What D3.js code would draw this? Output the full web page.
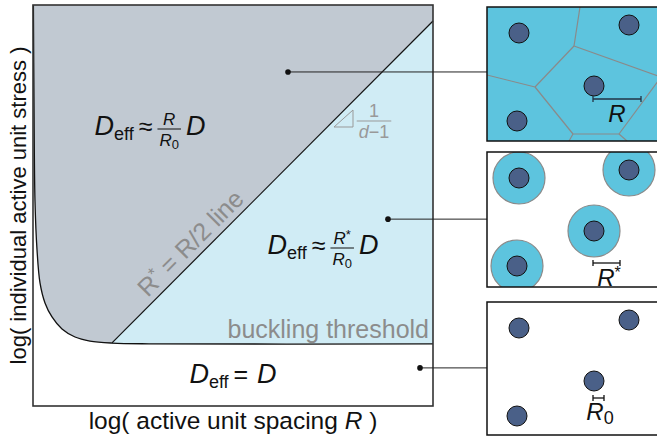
<!DOCTYPE html>
<html>
<head>
<meta charset="utf-8">
<script src="https://cdn.jsdelivr.net/npm/d3@7"></script>
<style>
  body { margin:0; background:#fff; }
  svg { display:block; font-family:"Liberation Sans", Arial, Helvetica, sans-serif; }
</style>
</head>
<body>
<svg id="chart" width="657" height="441"></svg>
<script>
// phase diagram, abstract log units 0..10 on both axes
const boundaryCurve = [
  [0.01,10],[0.025,7.6],[0.05,5.1],[0.1,3.9],[0.175,3.07],[0.3,2.57],[0.475,2.22],
  [0.725,1.92],[1.05,1.72],[1.425,1.62],[1.975,1.57],[2.9,1.55],[10,1.55]
];
const threshold = 1.55;
const halfLine = [[1.975,1.575],[10,9.6]];   // R* = R/2 line
const callouts = [[6.375,8.33],[8.875,4.66],[9.675,0.95]];

// right hand panels, local pixel units
const panelTops = [7,152,302];
const panelHeights = [134,135,133];
const units = [[32,26],[142,18],[107,79],[30,114]];
const voronoiEdges = [
  [[93,0],[87,39]],[[87,39],[48,80]],[[48,80],[0,68]],[[48,80],[86,127]],
  [[86,127],[82,134]],[[86,127],[132,127]],[[132,127],[140,134]],
  [[132,127],[174,70]],[[87,39],[174,70]]
];
const scaleBars = [48,27,11];   // R, R*, R0

const M = { top:5, right:224, bottom:35, left:33 };
const W = 657, H = 441;
const svg = d3.select('#chart');

const x = d3.scaleLinear().domain([0,10]).range([M.left, W - M.right]);
const y = d3.scaleLinear().domain([0,10]).range([H - M.bottom, M.top]);

const gray = '#c1c9d2', lightBlue = '#d0ecf5', cyan = '#5dc4de', dotCol = '#4a6088';

// regions
const curveLine = d3.line().x(d=>x(d[0])).y(d=>y(d[1])).curve(d3.curveCatmullRom.alpha(0.5));
const upper = boundaryCurve.filter(d => d[0] <= 1.975);
svg.append('path')
  .attr('d', curveLine(upper) + `L${x(10)},${y(9.6)}L${x(10)},${y(10)}Z`)
  .attr('fill', gray);

svg.append('path')
  .attr('d', `M${x(halfLine[0][0])},${y(threshold)}L${x(10)},${y(threshold)}L${x(10)},${y(9.6)}L${x(halfLine[0][0])},${y(halfLine[0][1])}Z`)
  .attr('fill', lightBlue);

svg.append('path')
  .attr('d', curveLine(boundaryCurve))
  .attr('fill','none').attr('stroke','#111').attr('stroke-width',1.3);

svg.append('line')
  .attr('x1', x(halfLine[0][0])).attr('y1', y(halfLine[0][1]))
  .attr('x2', x(halfLine[1][0])).attr('y2', y(halfLine[1][1]))
  .attr('stroke','#111').attr('stroke-width',1.2);

// frame
svg.append('rect')
  .attr('x', x(0)).attr('y', y(10))
  .attr('width', x(10)-x(0)).attr('height', y(0)-y(10))
  .attr('fill','none').attr('stroke','#333').attr('stroke-width',1.6);

// math text helper: lays out pieces left to right
function mathRow(parent, items) {
  const g = parent.append('g');
  let cx = 0;
  items.forEach(it => {
    if (it.frac) {
      const num = mathRow(g, it.frac[0]);
      const den = mathRow(g, it.frac[1]);
      const wn = num.node().getBBox().width, wd = den.node().getBBox().width;
      const w = Math.max(wn, wd) + 4;
      num.attr('transform', `translate(${cx + (w-wn)/2},-10)`);
      den.attr('transform', `translate(${cx + (w-wd)/2},11)`);
      g.append('line').attr('x1',cx).attr('x2',cx+w).attr('y1',-6).attr('y2',-6)
        .attr('stroke', it.color || '#111').attr('stroke-width',1);
      cx += w + (it.gap || 0);
    } else {
      const t = g.append('text')
        .attr('x', cx).attr('y', it.dy || 0)
        .attr('font-size', it.size || 24)
        .attr('font-style', it.italic ? 'italic' : 'normal')
        .attr('fill', it.color || '#111')
        .attr('xml:space','preserve')
        .text(it.t);
      cx += t.node().getComputedTextLength() + (it.gap || 0);
    }
  });
  return g;
}
function place(g, cx, by) {
  const b = g.node().getBBox();
  g.attr('transform', `translate(${cx - b.x - b.width/2},${by})`);
}

const Deff = [{t:'D', italic:true, size:27}, {t:'eff', size:18, dy:5, gap:5}];
const R0 = [{t:'R', italic:true, size:17}, {t:'0', size:13, dy:3}];

place(mathRow(svg, [...Deff, {t:'≈', size:25, gap:5},
  {frac:[[{t:'R', italic:true, size:17}], R0], gap:5}, {t:'D', italic:true, size:27}]), 150, 135);

place(mathRow(svg, [...Deff, {t:'≈', size:25, gap:5},
  {frac:[[{t:'R', italic:true, size:17},{t:'*', size:13, dy:-5}], R0], gap:5}, {t:'D', italic:true, size:27}]), 323, 254);

place(mathRow(svg, [...Deff, {t:'= ', size:25, gap:2}, {t:'D', italic:true, size:27}]), 233, 383);

// labels inside plot
svg.append('text')
  .attr('x', x(10) - 4).attr('y', y(threshold) - 6)
  .attr('text-anchor','end').attr('font-size',25).attr('fill','#8c8c8c')
  .text('buckling threshold');

const lx = 4.2, ly = lx - 0.4;
const lineLab = svg.append('text')
  .attr('transform', `translate(${x(lx)-4.5},${y(ly)-4.5}) rotate(-45)`)
  .attr('text-anchor','middle').attr('font-size',25).attr('fill','#8c8c8c')
  .attr('xml:space','preserve');
lineLab.append('tspan').text('R');
lineLab.append('tspan').attr('font-size',17).attr('dy',-8).text('*');
lineLab.append('tspan').attr('dy',8).text(' = R/2 line');

// slope triangle
svg.append('path')
  .attr('d', `M334,127L353,127L353,110Z`)
  .attr('fill','none').attr('stroke','#999').attr('stroke-width',1);
const slope = mathRow(svg, [{frac:[[{t:'1', size:18, color:'#999'}],
  [{t:'d', italic:true, size:18, color:'#999'},{t:'−1', size:18, color:'#999'}]], color:'#999'}]);
place(slope, 374, 127);

// axis titles
const xt = svg.append('text')
  .attr('x', (x(0)+x(10))/2).attr('y', 429)
  .attr('text-anchor','middle').attr('font-size',24.5).attr('fill','#111')
  .attr('xml:space','preserve');
xt.append('tspan').text('log( active unit spacing ');
xt.append('tspan').attr('font-style','italic').text('R');
xt.append('tspan').text(' )');

svg.append('text')
  .attr('transform', `translate(26,${(y(0)+y(10))/2}) rotate(-90)`)
  .attr('text-anchor','middle').attr('font-size',22).attr('fill','#111')
  .text('log( individual active unit stress )');

// callouts
const panelX = 487;
callouts.forEach(d => {
  svg.append('line').attr('x1', x(d[0])).attr('y1', y(d[1]))
    .attr('x2', panelX).attr('y2', y(d[1]))
    .attr('stroke','#222').attr('stroke-width',1);
  svg.append('circle').attr('cx', x(d[0])).attr('cy', y(d[1])).attr('r',2.8).attr('fill','#111');
});

// panels
const defs = svg.append('defs');
panelTops.forEach((top, i) => {
  const h = panelHeights[i];
  defs.append('clipPath').attr('id','clip'+i)
    .append('rect').attr('x',panelX).attr('y',top).attr('width',180).attr('height',h);
  const p = svg.append('g');
  p.append('rect').attr('x',panelX).attr('y',top).attr('width',180).attr('height',h)
    .attr('fill', i === 0 ? cyan : '#fff');
  const inner = p.append('g').attr('clip-path',`url(#clip${i})`);

  if (i === 0) {
    inner.selectAll('line.vor').data(voronoiEdges).join('line')
      .attr('x1', d => panelX + d[0][0]).attr('y1', d => top + d[0][1])
      .attr('x2', d => panelX + d[1][0]).attr('y2', d => top + d[1][1])
      .attr('stroke','#8a8a8a').attr('stroke-width',1.2);
  }
  if (i === 1) {
    inner.selectAll('circle.halo').data(units).join('circle')
      .attr('cx', d => panelX + d[0]).attr('cy', d => top + d[1]).attr('r',26)
      .attr('fill', cyan).attr('stroke','#8a8a8a').attr('stroke-width',1.2);
  }
  inner.selectAll('circle.unit').data(units).join('circle')
    .attr('cx', d => panelX + d[0]).attr('cy', d => top + d[1]).attr('r',10)
    .attr('fill', dotCol).attr('stroke','#111').attr('stroke-width',1);

  // scale bar
  const c = units[2];
  const bx = panelX + c[0] - 1, len = scaleBars[i];
  const by = i === 0 ? top + 92 : i === 1 ? top + 111 : top + 96;
  const bar = inner.append('g').attr('stroke', i === 0 ? '#223344' : '#111').attr('stroke-width',1.3);
  bar.append('line').attr('x1',bx).attr('x2',bx+len).attr('y1',by).attr('y2',by);
  bar.append('line').attr('x1',bx).attr('x2',bx).attr('y1',by-3).attr('y2',by+3);
  bar.append('line').attr('x1',bx+len).attr('x2',bx+len).attr('y1',by-3).attr('y2',by+3);

  const lab = inner.append('text').attr('font-size',24).attr('fill','#111')
    .attr('text-anchor','middle');
  if (i === 0) {
    lab.attr('x', panelX + 130).attr('y', top + 115);
    lab.append('tspan').attr('font-style','italic').text('R');
  } else if (i === 1) {
    lab.attr('x', panelX + 122).attr('y', top + 134);
    lab.append('tspan').attr('font-style','italic').text('R');
    lab.append('tspan').attr('font-size',16).attr('dy',-8).text('*');
  } else {
    lab.attr('x', panelX + 113).attr('y', top + 118);
    lab.append('tspan').attr('font-style','italic').text('R');
    lab.append('tspan').attr('font-size',18).attr('dy',4).text('0');
  }

  p.append('rect').attr('x',panelX).attr('y',top).attr('width',180).attr('height',h)
    .attr('fill','none').attr('stroke','#111').attr('stroke-width',1.5);
});
</script>
</body>
</html>
